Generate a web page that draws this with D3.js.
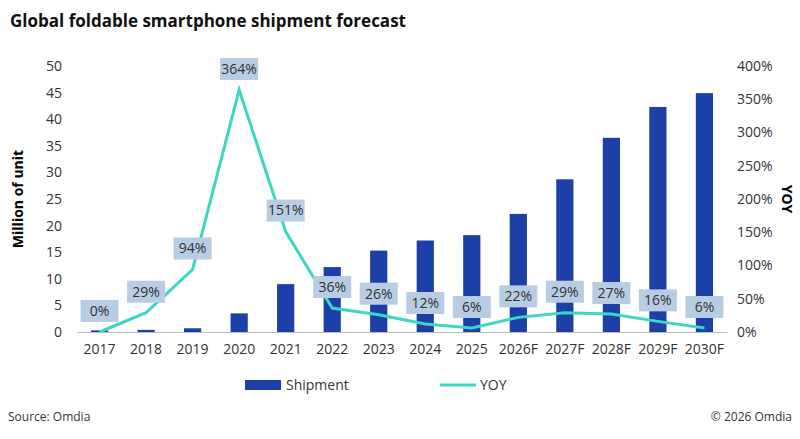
<!DOCTYPE html>
<html><head><meta charset="utf-8">
<script src="https://cdn.jsdelivr.net/npm/d3@7"></script>
<style>body{margin:0;background:#fff}text{font-family:"Open Sans",sans-serif}</style>
</head><body>
<script>
const years = ["2017","2018","2019","2020","2021","2022","2023","2024","2025","2026F","2027F","2028F","2029F","2030F"];
const shipment = [0.3,0.4,0.7,3.5,9,12.2,15.3,17.2,18.2,22.2,28.7,36.5,42.3,44.9];
const yoy = [0,29,94,364,151,36,26,12,6,22,29,27,16,6];
const leftTicks = [0,5,10,15,20,25,30,35,40,45,50];
const rightTicks = [0,50,100,150,200,250,300,350,400];

const W = 800, H = 439;
const svg = d3.select("body").append("svg").attr("width", W).attr("height", H);

const x = d3.scaleBand().domain(years).range([77, 727]).paddingInner(0.63).paddingOuter(0.3);
const y = d3.scaleLinear().domain([0, 50]).range([332, 66]);
const y2 = d3.scaleLinear().domain([0, 400]).range([332, 66]);

svg.append("text").attr("x", 10).attr("y", 27).attr("font-size", 17).attr("font-weight", "bold")
  .attr("fill", "#111").text("Global foldable smartphone shipment forecast");

// axes
const la = svg.append("g").attr("transform", "translate(72,0)")
  .call(d3.axisLeft(y).tickValues(leftTicks).tickSize(0).tickPadding(10));
const ra = svg.append("g").attr("transform", "translate(727,0)")
  .call(d3.axisRight(y2).tickValues(rightTicks).tickSize(0).tickPadding(10).tickFormat(d => d + "%"));
const xa = svg.append("g").attr("transform", "translate(0,332)")
  .call(d3.axisBottom(x).tickSize(0).tickPadding(12));
[la, ra].forEach(g => g.select(".domain").remove());
xa.select(".domain").attr("stroke", "#bbb");
svg.selectAll(".tick text").attr("font-size", 14).attr("fill", "#333").attr("font-family", "Open Sans, sans-serif");

svg.append("text").attr("transform", "translate(23,199) rotate(-90)").attr("text-anchor", "middle")
  .attr("font-size", 14).attr("font-weight", "bold").text("Million of unit");
svg.append("text").attr("transform", "translate(782,199) rotate(90)").attr("text-anchor", "middle")
  .attr("font-size", 14).attr("font-weight", "bold").text("YOY");

// bars
svg.selectAll("rect.bar").data(years).enter().append("rect").attr("class", "bar")
  .attr("x", d => x(d)).attr("width", x.bandwidth())
  .attr("y", (d, i) => y(shipment[i])).attr("height", (d, i) => 332 - y(shipment[i]))
  .attr("fill", "#1c3fa8");

// line
const cx = d => x(d) + x.bandwidth() / 2;
svg.append("path").datum(years)
  .attr("d", d3.line().x(d => cx(d)).y((d, i) => y2(yoy[i])))
  .attr("fill", "none").attr("stroke", "#3dd6c2").attr("stroke-width", 3);

// labels
const lab = svg.selectAll("g.lab").data(years).enter().append("g").attr("class", "lab")
  .attr("transform", (d, i) => `translate(${cx(d)},${y2(yoy[i]) - 21})`);
lab.append("rect").attr("x", -19).attr("y", -11).attr("width", 38).attr("height", 22).attr("fill", "#b8cce4");
lab.append("text").attr("text-anchor", "middle").attr("dy", "0.35em").attr("font-size", 14).attr("fill", "#333")
  .text((d, i) => yoy[i] + "%");

// legend
svg.append("rect").attr("x", 245).attr("y", 380).attr("width", 36).attr("height", 10).attr("fill", "#1c3fa8");
svg.append("text").attr("x", 286).attr("y", 390).attr("font-size", 14).attr("fill", "#333").text("Shipment");
svg.append("line").attr("x1", 440).attr("x2", 476).attr("y1", 385).attr("y2", 385)
  .attr("stroke", "#3dd6c2").attr("stroke-width", 3);
svg.append("text").attr("x", 480).attr("y", 390).attr("font-size", 14).attr("fill", "#333").text("YOY");

svg.append("text").attr("x", 8).attr("y", 421).attr("font-size", 12).attr("fill", "#333").text("Source: Omdia");
svg.append("text").attr("x", 792).attr("y", 421).attr("text-anchor", "end").attr("font-size", 12).attr("fill", "#333").text("© 2026 Omdia");
</script>
</body></html>
